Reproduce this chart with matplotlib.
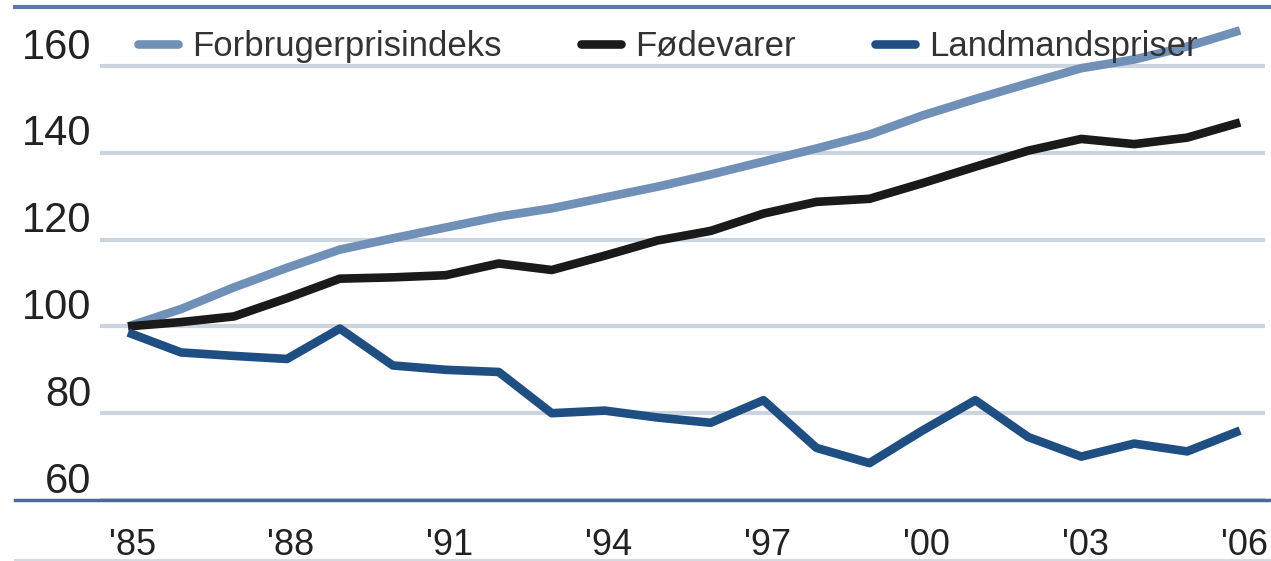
import matplotlib.pyplot as plt
import matplotlib.transforms as mtransforms
from matplotlib.lines import Line2D

plt.rcParams['font.family'] = ['Liberation Sans', 'DejaVu Sans']

# data (index 1985 = 100)
years = list(range(1985, 2007))
forbrug = [100, 104, 109, 113.5, 117.7, 120.3, 122.8, 125.3, 127.2, 129.7, 132.2, 135,
           138, 141, 144.2, 148.6, 152.4, 156, 159.5, 161.5, 164.5, 168.2]
foedevarer = [100, 101, 102.3, 106.5, 111, 111.3, 111.8, 114.5, 113, 116.3, 119.8, 122,
              126, 128.7, 129.4, 133, 136.8, 140.5, 143.2, 142, 143.5, 147]
landmand = [98.6, 94, 93.2, 92.5, 99.5, 91, 90, 89.5, 80, 80.6, 79, 77.8,
            83, 72, 68.5, 76, 83, 74.5, 70, 73, 71.2, 76]
series_names = ['Forbrugerprisindeks', 'Fødevarer', 'Landmandspriser']
series_colors = ['#7090b8', '#1a1a1a', '#1f4e82']
xtick_years = [1985, 1988, 1991, 1994, 1997, 2000, 2003, 2006]
xtick_labels = ["'85", "'88", "'91", "'94", "'97", "'00", "'03", "'06"]
yticks = [60, 80, 100, 120, 140, 160]

W, H = 1271, 561
fig = plt.figure(figsize=(W / 100, H / 100), dpi=100)
ax = fig.add_axes([100 / W, 61 / H, 1165 / W, 493 / H])

for vals, name, col in zip([forbrug, foedevarer, landmand], series_names, series_colors):
    ax.plot(years, vals, color=col, lw=6.2, label=name, solid_capstyle='butt',
            solid_joinstyle='round', zorder=3)

ax.set_xlim(1984.47, 2006.47)
ax.set_ylim(60, 173.6)
ax.set_yticks(yticks)
ax.set_xticks(xtick_years)
ax.set_xticklabels(xtick_labels)
ax.grid(axis='y', color='#cbd4df', lw=3, zorder=1)
ax.tick_params(axis='y', length=0, pad=6, labelsize=30, labelcolor='#222222')
ax.tick_params(axis='x', length=0, pad=20, labelsize=26, labelcolor='#222222')
for s in ax.spines.values():
    s.set_visible(False)

# y labels sit above their gridline
offset = mtransforms.ScaledTranslation(0, 0.23, fig.dpi_scale_trans)
for lab in ax.get_yticklabels():
    lab.set_transform(lab.get_transform() + offset)
# x labels nudged a bit right
xoff = mtransforms.ScaledTranslation(0.04, 0, fig.dpi_scale_trans)
for lab in ax.get_xticklabels():
    lab.set_transform(lab.get_transform() + xoff)

# frame lines across whole width
fig.add_artist(Line2D([15 / W, 1], [1 - 7 / H] * 2, color='#5a7aa4', lw=3))
fig.add_artist(Line2D([15 / W, 1], [1 - 500 / H] * 2, color='#4a6a96', lw=2.5))
fig.add_artist(Line2D([15 / W, 1], [1 / H] * 2, color='#d5dbe3', lw=1.5))

leg = ax.legend(loc='center left', bbox_to_anchor=(0.0326, 0.92), ncol=3, frameon=False,
                fontsize=25, handlelength=1.15, handletextpad=0.4, columnspacing=2.3,
                borderpad=0, borderaxespad=0, labelcolor='#333333')
for h in leg.get_lines():
    h.set_solid_capstyle('round')

fig.savefig('out.png', dpi=100)
